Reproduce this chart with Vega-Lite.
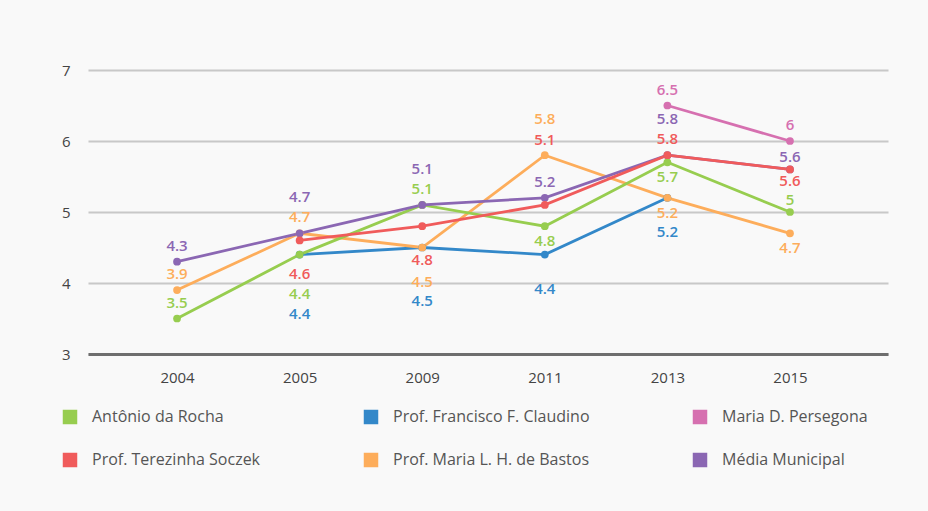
{
  "$schema": "https://vega.github.io/schema/vega-lite/v6.json",
  "width": 800,
  "height": 284,
  "autosize": {"type": "none"},
  "padding": {"left": 88, "top": 70, "right": 40, "bottom": 157},
  "background": "#f9f9f9",
  "config": {
    "view": {"stroke": null},
    "font": "Open Sans",
    "text": {"fontSize": 15, "fontWeight": 600}
  },
  "data": {
    "values": [
      {"year": "2005", "school": "Prof. Francisco F. Claudino", "value": 4.4, "slot": 3.5},
      {"year": "2009", "school": "Prof. Francisco F. Claudino", "value": 4.5, "slot": 3},
      {"year": "2011", "school": "Prof. Francisco F. Claudino", "value": 4.4, "slot": 2},
      {"year": "2013", "school": "Prof. Francisco F. Claudino", "value": 5.2, "slot": 2},
      {"year": "2004", "school": "Prof. Maria L. H. de Bastos", "value": 3.9, "slot": -1},
      {"year": "2005", "school": "Prof. Maria L. H. de Bastos", "value": 4.7, "slot": -1},
      {"year": "2009", "school": "Prof. Maria L. H. de Bastos", "value": 4.5, "slot": 2},
      {"year": "2011", "school": "Prof. Maria L. H. de Bastos", "value": 5.8, "slot": -2},
      {"year": "2013", "school": "Prof. Maria L. H. de Bastos", "value": 5.2, "slot": 1},
      {"year": "2015", "school": "Prof. Maria L. H. de Bastos", "value": 4.7, "slot": 1},
      {"year": "2004", "school": "Antônio da Rocha", "value": 3.5, "slot": -1},
      {"year": "2005", "school": "Antônio da Rocha", "value": 4.4, "slot": 2.5},
      {"year": "2009", "school": "Antônio da Rocha", "value": 5.1, "slot": -1},
      {"year": "2011", "school": "Antônio da Rocha", "value": 4.8, "slot": 1},
      {"year": "2013", "school": "Antônio da Rocha", "value": 5.7, "slot": 1},
      {"year": "2015", "school": "Antônio da Rocha", "value": 5.0, "slot": -0.75},
      {"year": "2013", "school": "Maria D. Persegona", "value": 6.5, "slot": -1},
      {"year": "2015", "school": "Maria D. Persegona", "value": 6.0, "slot": -1},
      {"year": "2004", "school": "Média Municipal", "value": 4.3, "slot": -1},
      {"year": "2005", "school": "Média Municipal", "value": 4.7, "slot": -2},
      {"year": "2009", "school": "Média Municipal", "value": 5.1, "slot": -2},
      {"year": "2011", "school": "Média Municipal", "value": 5.2, "slot": -1},
      {"year": "2013", "school": "Média Municipal", "value": 5.8, "slot": -2},
      {"year": "2015", "school": "Média Municipal", "value": 5.6, "slot": -0.75},
      {"year": "2005", "school": "Prof. Terezinha Soczek", "value": 4.6, "slot": 2},
      {"year": "2009", "school": "Prof. Terezinha Soczek", "value": 4.8, "slot": 2},
      {"year": "2011", "school": "Prof. Terezinha Soczek", "value": 5.1, "slot": -4},
      {"year": "2013", "school": "Prof. Terezinha Soczek", "value": 5.8, "slot": -1},
      {"year": "2015", "school": "Prof. Terezinha Soczek", "value": 5.6, "slot": 0.75}
    ]
  },
  "encoding": {
    "x": {
      "field": "year", "type": "ordinal",
      "scale": {"type": "point", "padding": 0.763, "align": 0.476},
      "axis": {
        "title": null, "labelAngle": 0, "ticks": false,
        "domainColor": "#6e6e6e", "domainWidth": 3,
        "labelFontSize": 15, "labelColor": "#444444", "labelPadding": 16, "grid": false
      }
    },
    "y": {
      "field": "value", "type": "quantitative",
      "scale": {"domain": [3, 7], "nice": false, "zero": false},
      "axis": {
        "title": null, "values": [3, 4, 5, 6, 7], "domain": false, "ticks": false,
        "grid": true, "gridColor": "#c8c8c8", "gridWidth": 2,
        "labelFontSize": 15, "labelColor": "#444444", "labelPadding": 18
      }
    },
    "color": {
      "field": "school", "type": "nominal",
      "scale": {
        "domain": ["Antônio da Rocha", "Prof. Francisco F. Claudino", "Maria D. Persegona", "Prof. Terezinha Soczek", "Prof. Maria L. H. de Bastos", "Média Municipal"],
        "range": ["#97cd4f", "#3388c9", "#d670b0", "#f05b5b", "#fdad5b", "#8b67b3"]
      },
      "legend": {
        "title": null, "orient": "none", "legendX": -26, "legendY": 339,
        "direction": "horizontal",
        "columns": 3, "columnPadding": 102, "rowPadding": 27,
        "symbolType": "square", "symbolSize": 210, "symbolStrokeWidth": 0,
        "labelFontSize": 16, "labelColor": "#555555", "labelOffset": 14, "labelLimit": 400
      }
    }
  },
  "layer": [
    {"mark": {"type": "line", "strokeWidth": 2.8}, "encoding": {"detail": {"field": "school"}}},
    {"mark": {"type": "point", "filled": true, "size": 60, "opacity": 1}},
    {"transform": [{"filter": "datum.slot == -4"}], "mark": {"type": "text", "dy": -65}, "encoding": {"text": {"field": "value", "type": "quantitative"}}},
    {"transform": [{"filter": "datum.slot == -2"}], "mark": {"type": "text", "dy": -36}, "encoding": {"text": {"field": "value", "type": "quantitative"}}},
    {"transform": [{"filter": "datum.slot == -1"}], "mark": {"type": "text", "dy": -16}, "encoding": {"text": {"field": "value", "type": "quantitative"}}},
    {"transform": [{"filter": "datum.slot == -0.75"}], "mark": {"type": "text", "dy": -12}, "encoding": {"text": {"field": "value", "type": "quantitative"}}},
    {"transform": [{"filter": "datum.slot == 0.75"}], "mark": {"type": "text", "dy": 12}, "encoding": {"text": {"field": "value", "type": "quantitative"}}},
    {"transform": [{"filter": "datum.slot == 1"}], "mark": {"type": "text", "dy": 15}, "encoding": {"text": {"field": "value", "type": "quantitative"}}},
    {"transform": [{"filter": "datum.slot == 2"}], "mark": {"type": "text", "dy": 34}, "encoding": {"text": {"field": "value", "type": "quantitative"}}},
    {"transform": [{"filter": "datum.slot == 2.5"}], "mark": {"type": "text", "dy": 39}, "encoding": {"text": {"field": "value", "type": "quantitative"}}},
    {"transform": [{"filter": "datum.slot == 3"}], "mark": {"type": "text", "dy": 53}, "encoding": {"text": {"field": "value", "type": "quantitative"}}},
    {"transform": [{"filter": "datum.slot == 3.5"}], "mark": {"type": "text", "dy": 59}, "encoding": {"text": {"field": "value", "type": "quantitative"}}}
  ]
}
